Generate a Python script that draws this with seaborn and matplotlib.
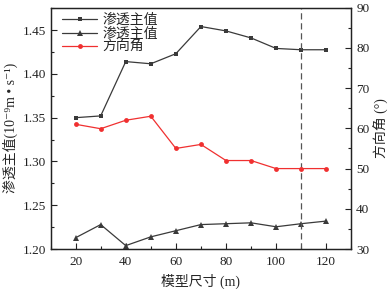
import matplotlib
matplotlib.use("Agg")
import matplotlib.pyplot as plt
import seaborn as sns
import pandas as pd
from matplotlib.ticker import MultipleLocator

sizes = [20, 30, 40, 50, 60, 70, 80, 90, 100, 110, 120]
perm_max = [1.350, 1.352, 1.414, 1.4115, 1.423, 1.454, 1.449, 1.441, 1.429, 1.4275, 1.4275]
perm_min = [1.213, 1.228, 1.204, 1.214, 1.221, 1.228, 1.229, 1.230, 1.2255, 1.229, 1.232]
angle = [61.0, 59.9, 62.0, 63.0, 55.0, 56.0, 52.0, 52.0, 50.0, 50.0, 50.0]
labels = ["渗透主值", "渗透主值", "方向角"]

df = pd.DataFrame({"size": sizes, "pmax": perm_max, "pmin": perm_min, "angle": angle})

sns.set_style("ticks")
fam = ["Liberation Serif", "Noto Sans CJK SC", "DejaVu Sans"]
plt.rcParams["font.family"] = fam

fig = plt.figure(figsize=(3.89, 2.89), dpi=100)
ax = fig.add_axes([0.130, 0.138, 0.773, 0.836])
ax2 = ax.twinx()

gray = "#3a3a3a"
sns.lineplot(data=df, x="size", y="pmax", ax=ax, color=gray, marker="s", markersize=3.5,
             markeredgewidth=0, linewidth=0.9, label=labels[0], legend=False)
sns.lineplot(data=df, x="size", y="pmin", ax=ax, color=gray, marker="^", markersize=4,
             markeredgewidth=0, linewidth=0.9, label=labels[1], legend=False)
sns.lineplot(data=df, x="size", y="angle", ax=ax2, color="#f03030", marker="o", markersize=3.5,
             markeredgewidth=0, linewidth=0.9, label=labels[2], legend=False)

ax.axvline(110, color="#555555", linestyle=(0, (5, 3)), linewidth=0.9)

ax.set_xlim(10, 130)
ax.set_ylim(1.20, 1.4757)
ax2.set_ylim(30, 90)
ax.xaxis.set_major_locator(MultipleLocator(20))
ax.xaxis.set_minor_locator(MultipleLocator(10))
ax.yaxis.set_major_locator(MultipleLocator(0.05))
ax.yaxis.set_minor_locator(MultipleLocator(0.025))
ax2.yaxis.set_major_locator(MultipleLocator(10))
ax2.yaxis.set_minor_locator(MultipleLocator(5))
ax.yaxis.set_major_formatter(matplotlib.ticker.FormatStrFormatter("%.2f"))

for a in (ax, ax2):
    a.tick_params(which="both", direction="in", labelsize=9.5, colors="#222222", width=0.8)
    a.tick_params(which="major", length=4)
    a.tick_params(which="minor", length=2)
    for s in a.spines.values():
        s.set_linewidth(0.9)
        s.set_color("#222222")
ax.tick_params(axis="x", pad=5)

ax.set_xlabel("模型尺寸 (m)", fontsize=10)
ax.set_ylabel("渗透主值(10⁻⁹m • s⁻¹)", fontsize=10, labelpad=3)
ax2.set_ylabel("方向角 (°)", fontsize=10, labelpad=3)

h1, l1 = ax.get_legend_handles_labels()
h2, l2 = ax2.get_legend_handles_labels()
ax.legend(h1 + h2, l1 + l2, loc="upper left", frameon=False, fontsize=10,
          handlelength=2.5, labelspacing=0.05, borderaxespad=0.0,
          bbox_to_anchor=(0.02, 1.0), handletextpad=0.4)

fig.savefig("out.png", dpi=100)
